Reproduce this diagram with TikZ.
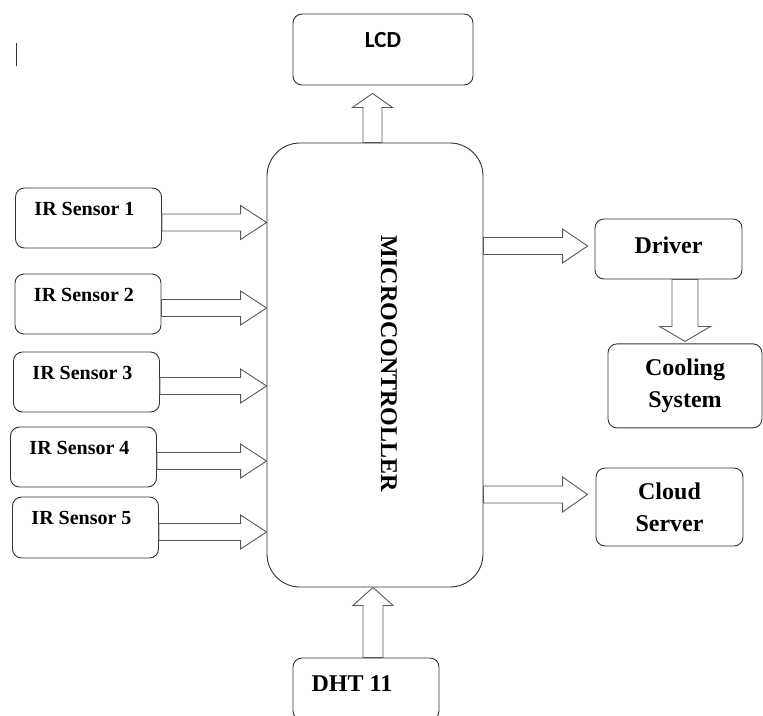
\documentclass[tikz,border=0pt]{standalone}
\usepackage{fontspec}
\setmainfont{Liberation Serif}
\newfontfamily\lcdfamily{Carlito}
\usepackage{xcolor}
\colorlet{colorBox}{black!80}
\colorlet{colorArrow}{black!65}
\usetikzlibrary{calc, positioning}
\tikzset{
  block/.style={draw=colorBox, line width=0.9pt, rounded corners=9pt, align=center, inner ysep=0pt, font=\bfseries\fontsize{24}{32}\selectfont},
  sensorbox/.style={block, minimum width=146pt, minimum height=60pt, text height=27pt, text depth=33pt, font=\bfseries\fontsize{20}{24}\selectfont, textshift=8pt},
  textshift/.style={execute at end node={\hspace{#1}}},
  blockarrow/.style n args={3}{draw=colorArrow, line width=0.9pt, fill=white, line join=miter,
    to path={let \p1=($(\tikztotarget)!#3!(\tikztostart)$) in
      ($(\tikztostart)!#1!90:(\tikztotarget)$) -- ($(\p1)!#1!90:(\tikztotarget)$) -- ($(\p1)!#2!90:(\tikztotarget)$)
      -- (\tikztotarget) -- ($(\p1)!#2!-90:(\tikztotarget)$) -- ($(\p1)!#1!-90:(\tikztotarget)$)
      -- ($(\tikztostart)!#1!-90:(\tikztotarget)$) -- cycle}}
}
\begin{document}
\begin{tikzpicture}[x=1pt, y=-1pt]
\useasboundingbox (0,0) rectangle (763,715);
\node[block, rounded corners=33pt, minimum width=216pt, minimum height=444pt] (mcu) at (375,365) {};
\node[rotate=-90, font=\bfseries\fontsize{24}{28}\selectfont] (mcutext) at (389,364) {MICROCONTROLLER};
\node[block, minimum width=180pt, text height=33pt, text depth=38pt, font=\lcdfamily\bfseries\fontsize{23}{26}\selectfont] (lcd) at (383,49.5) {LCD};
\node[block, minimum width=146pt, text height=33pt, text depth=29pt, textshift=28pt] (dht) at (366,689) {DHT 11};
\node[sensorbox] (s1) at (88.5,218) {IR Sensor 1};
\node[sensorbox] (s2) at (88,304) {IR Sensor 2};
\node[sensorbox] (s3) at (86.5,382) {IR Sensor 3};
\node[sensorbox] (s4) at (83.5,457) {IR Sensor 4};
\node[sensorbox, minimum height=61pt, text depth=34pt] (s5) at (85.5,527.5) {IR Sensor 5};
\node[block, minimum width=147pt, text height=34pt, text depth=26pt] (drv) at (668.5,249) {Driver};
\node[block, minimum width=154pt, minimum height=84pt, below=64pt of drv.south, xshift=16.5pt] (cool) {Cooling\\System};
\node[block, minimum width=147pt, minimum height=78pt] (cld) at (669.5,507) {Cloud\\Server};
% sensors into the controller
\draw[blockarrow={8.5pt}{17pt}{26pt}] ($(s1.east)+(0,4.5)$) to ($(s1.east -| mcu.west)+(0,4.5)$);
\draw[blockarrow={8.5pt}{17pt}{26pt}] ($(s2.east)+(0,4)$) to ($(s2.east -| mcu.west)+(0,4)$);
\draw[blockarrow={8.5pt}{17pt}{26pt}] ($(s3.east)+(0,4)$) to ($(s3.east -| mcu.west)+(0,4)$);
\draw[blockarrow={8.5pt}{17pt}{26pt}] ($(s4.east)+(0,4)$) to ($(s4.east -| mcu.west)+(0,4)$);
\draw[blockarrow={8.5pt}{17pt}{26pt}] ($(s5.east)+(0,4.5)$) to ($(s5.east -| mcu.west)+(0,4.5)$);
% outputs
\draw[blockarrow={9.5pt}{20pt}{14pt}] ($(mcu.north)+(-2.5,0)$) to ($(lcd.south)+(-10.5,8)$);
\draw[blockarrow={10pt}{20pt}{18pt}] ($(dht.north)+(7,0)$) to ($(mcu.south)+(-2,0)$);
\draw[blockarrow={8.5pt}{17pt}{25pt}] ($(mcu.east |- drv.west)+(0,-3)$) to ($(drv.west)+(-7,-3)$);
\draw[blockarrow={8.5pt}{17.5pt}{25pt}] ($(mcu.east |- cld.west)+(0,-12.5)$) to ($(cld.west)+(-8,-12.5)$);
\draw[blockarrow={13pt}{25.5pt}{15pt}] (drv.south -| cool.north) to ($(cool.north)+(0,-2)$);
\draw[black!80, line width=0.8pt] (16,43) -- (16,66);
\end{tikzpicture}
\end{document}
